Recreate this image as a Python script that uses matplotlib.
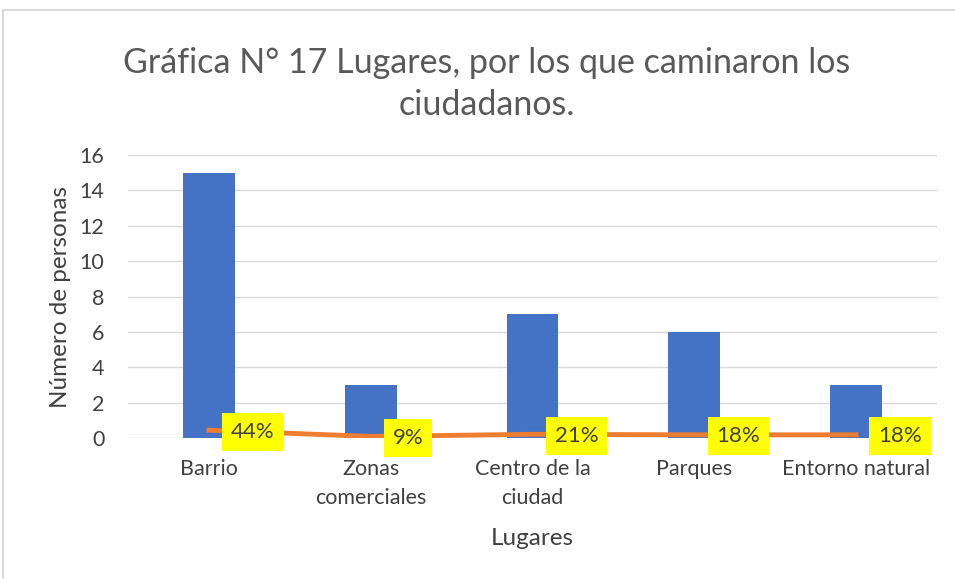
import matplotlib
matplotlib.use("Agg")
import matplotlib.pyplot as plt
from matplotlib.patches import Rectangle

plt.rcParams['font.family'] = ['Lato', 'DejaVu Sans']

# data
lugares = ["Barrio", "Zonas\ncomerciales", "Centro de la\nciudad", "Parques", "Entorno natural"]
personas = [15, 3, 7, 6, 3]
porcentaje = [0.44, 0.09, 0.21, 0.18, 0.18]
etiquetas = ["44%", "9%", "21%", "18%", "18%"]

fig = plt.figure(figsize=(9.55, 5.79), dpi=100)
ax = fig.add_axes([0.134, 0.2435, 0.847, 0.4888])

x = range(len(lugares))
ax.bar(x, personas, width=0.32, color="#4472C4", zorder=2)
ax.plot(x, porcentaje, color="#ED7D31", linewidth=3.5, zorder=3)

for xi, yi, lab in zip(x, porcentaje, etiquetas):
    ax.annotate(lab, (xi, yi), xytext=(16, -1), textcoords="offset points",
                ha="left", va="center", fontsize=16, color="#404040",
                bbox=dict(boxstyle="square,pad=0.4", fc="#FFFF00", ec="none"),
                zorder=4)

ax.set_xlim(-0.5, len(lugares) - 0.5)
ax.set_ylim(0, 16)
ax.set_yticks(range(0, 17, 2))
ax.set_xticks(list(x))
ax.set_xticklabels(lugares, fontsize=15.5, color="#404040", linespacing=1.6)
ax.tick_params(axis="y", labelsize=15.5, labelcolor="#404040", length=0, pad=17)
ax.tick_params(axis="x", length=0, pad=15)
ax.grid(axis="y", color="#D9D9D9", linewidth=1, zorder=0)
for s in ax.spines.values():
    s.set_visible(False)

ax.set_ylabel("Número de personas", fontsize=17.5, color="#404040", labelpad=6)
ax.set_xlabel("Lugares", fontsize=17.5, color="#404040", labelpad=14)

fig.text(0.51, 0.855, "Gráfica N° 17 Lugares, por los que caminaron los\nciudadanos.",
         ha="center", va="center", fontsize=24.5, color="#595959", linespacing=1.4)

fig.patches.append(Rectangle((0.003, -0.01), 1.0, 0.993, transform=fig.transFigure,
                             fill=False, ec="#D9D9D9", lw=1.5))

fig.savefig("out.png", dpi=100)
